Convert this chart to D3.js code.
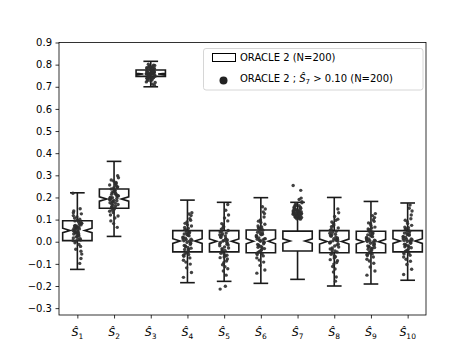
<!DOCTYPE html>
<meta charset="utf-8">
<style>
body { margin: 0; background: #fff; }
text { font-family: "DejaVu Sans", sans-serif; font-size: 10px; }
</style>
<svg width="473" height="355"></svg>
<script src="https://d3js.org/d3.v7.min.js"></script>
<script>

// categories and tick labels
var categories = ["1", "2", "3", "4", "5", "6", "7", "8", "9", "10"];
var yTicks = [-0.3, -0.2, -0.1, 0.0, 0.1, 0.2, 0.3, 0.4, 0.5, 0.6, 0.7, 0.8, 0.9];

// box statistics (ORACLE 2, N=200)
var q1     = [0.005, 0.151, 0.747, -0.046, -0.046, -0.050, -0.042, -0.050, -0.050, -0.046];
var median = [0.051, 0.193, 0.758,  0.003,  0.002,  0.002,  0.003,  0.001,  0.000,  0.003];
var q3     = [0.095, 0.238, 0.776,  0.050,  0.050,  0.053,  0.048,  0.050,  0.047,  0.050];
var whisLo = [-0.125, 0.024, 0.700, -0.185, -0.179, -0.188, -0.170, -0.200, -0.191, -0.174];
var whisHi = [0.221, 0.363, 0.815,  0.188,  0.178,  0.199,  0.178,  0.200,  0.182,  0.175];
var nRuns = 200;

// strip points (ORACLE 2 ; S7 > 0.10)
var pts1 = [0.052, 0.031, 0.094, 0.008, 0.067, 0.118, -0.012, 0.043, 0.076, 0.025, 0.139, 0.058, -0.034, 0.084, 0.011, 0.047, 0.102, 0.063, -0.056, 0.029, 0.071, 0.149, 0.038, 0.005, 0.089, 0.054, -0.021, 0.112, 0.017, 0.066, 0.041, -0.076, 0.097, 0.035, 0.079, 0.002, 0.126, 0.048, 0.061, -0.098, 0.022, 0.083, 0.044, 0.107, 0.014, 0.069, 0.219, 0.037, -0.005, 0.091, 0.057, 0.131, 0.026, 0.073, -0.043];
var pts2 = [0.192, 0.231, 0.158, 0.205, 0.274, 0.176, 0.219, 0.143, 0.248, 0.187, 0.121, 0.263, 0.199, 0.168, 0.227, 0.094, 0.211, 0.182, 0.289, 0.153, 0.238, 0.196, 0.132, 0.256, 0.174, 0.214, 0.065, 0.243, 0.189, 0.161, 0.222, 0.298, 0.147, 0.201, 0.268, 0.179, 0.116, 0.234, 0.194, 0.252, 0.165, 0.207, 0.107, 0.279, 0.185, 0.226, 0.138, 0.216, 0.171, 0.245, 0.082, 0.198, 0.261, 0.155, 0.209];
var pts3 = [0.758, 0.772, 0.745, 0.781, 0.763, 0.739, 0.791, 0.752, 0.768, 0.726, 0.784, 0.757, 0.748, 0.796, 0.761, 0.735, 0.775, 0.754, 0.719, 0.787, 0.766, 0.742, 0.779, 0.759, 0.731, 0.802, 0.764, 0.749, 0.771, 0.712, 0.756, 0.783, 0.744, 0.767, 0.738, 0.793, 0.753, 0.776, 0.728, 0.762, 0.789, 0.747, 0.769, 0.741, 0.798, 0.755, 0.722, 0.774, 0.751, 0.765, 0.736, 0.786, 0.759, 0.744, 0.707];
var pts4 = [0.012, -0.034, 0.056, -0.008, 0.089, -0.061, 0.027, -0.019, 0.118, -0.047, 0.004, 0.043, -0.092, 0.071, -0.026, 0.035, -0.073, 0.009, 0.131, -0.041, 0.064, -0.012, -0.118, 0.021, 0.048, -0.055, 0.097, -0.003, -0.084, 0.038, 0.016, -0.029, 0.077, -0.066, 0.002, 0.052, -0.139, 0.029, -0.017, 0.104, -0.048, 0.007, 0.061, -0.035, -0.101, 0.041, 0.019, -0.058, 0.083, -0.006, 0.033, -0.161, 0.125, -0.022, 0.011];
var pts5 = [-0.018, 0.026, -0.047, 0.008, 0.068, -0.072, 0.015, -0.031, 0.094, -0.056, -0.003, 0.039, -0.104, 0.051, -0.024, 0.019, -0.087, 0.003, 0.121, -0.039, 0.057, -0.011, -0.132, 0.031, -0.064, 0.082, -0.006, -0.095, 0.044, 0.012, -0.043, 0.168, -0.069, 0.022, -0.151, 0.036, -0.015, 0.107, -0.052, 0.001, 0.063, -0.028, -0.113, 0.047, -0.061, 0.076, -0.009, -0.201, 0.029, -0.078, 0.005, -0.214, 0.142, -0.036, -0.122];
var pts6 = [0.021, -0.027, 0.063, -0.004, 0.098, -0.052, 0.034, -0.016, 0.127, -0.041, 0.011, 0.052, -0.083, 0.079, -0.021, 0.043, -0.064, 0.006, 0.148, -0.036, 0.071, -0.009, -0.107, 0.028, 0.056, -0.047, 0.112, 0.002, -0.073, 0.039, 0.017, -0.031, 0.087, -0.058, 0.008, 0.061, -0.128, 0.031, -0.012, 0.135, -0.044, 0.014, 0.067, -0.025, -0.092, 0.047, 0.024, -0.054, 0.093, -0.002, 0.036, -0.142, 0.158, -0.019, 0.013];
var pts7 = [0.124, 0.138, 0.112, 0.151, 0.119, 0.133, 0.107, 0.162, 0.128, 0.115, 0.143, 0.121, 0.172, 0.109, 0.135, 0.126, 0.147, 0.113, 0.181, 0.131, 0.118, 0.156, 0.104, 0.139, 0.122, 0.166, 0.116, 0.141, 0.129, 0.191, 0.111, 0.136, 0.123, 0.153, 0.106, 0.144, 0.127, 0.117, 0.158, 0.132, 0.114, 0.176, 0.125, 0.149, 0.102, 0.137, 0.254, 0.121, 0.146, 0.232, 0.119, 0.134, 0.163, 0.128, 0.197];
var pts8 = [-0.006, 0.034, -0.051, 0.017, 0.076, -0.081, 0.009, -0.028, 0.102, -0.063, -0.001, 0.047, -0.112, 0.062, -0.019, 0.025, -0.094, 0.004, 0.131, -0.042, 0.068, -0.014, -0.137, 0.038, -0.068, 0.089, 0.011, -0.101, 0.052, 0.021, -0.036, 0.148, -0.074, 0.029, -0.159, 0.043, -0.011, 0.114, -0.057, 0.006, 0.071, -0.024, -0.123, 0.056, -0.046, 0.083, -0.003, -0.178, 0.031, -0.086, 0.014, -0.033, 0.097, -0.048, 0.002];
var pts9 = [0.008, -0.029, 0.049, -0.012, 0.081, -0.058, 0.023, -0.021, 0.109, -0.043, 0.001, 0.039, -0.087, 0.066, -0.031, 0.031, -0.069, 0.005, 0.127, -0.037, 0.058, -0.016, -0.114, 0.019, 0.044, -0.052, 0.092, -0.007, -0.079, 0.035, 0.012, -0.026, 0.073, -0.062, -0.002, 0.054, -0.132, 0.026, -0.019, 0.099, -0.046, 0.003, 0.062, -0.034, -0.097, 0.041, 0.015, -0.055, 0.085, -0.009, 0.029, -0.151, 0.118, -0.024, 0.007];
var pts10 = [0.014, -0.022, 0.057, -0.005, 0.091, -0.049, 0.029, -0.013, 0.121, -0.038, 0.006, 0.046, -0.079, 0.074, -0.018, 0.039, -0.061, 0.011, 0.139, -0.032, 0.066, -0.007, -0.103, 0.024, 0.051, -0.044, 0.104, 0.001, -0.069, 0.035, 0.019, -0.027, 0.082, -0.055, 0.004, 0.059, -0.124, 0.031, -0.011, 0.166, -0.041, 0.009, 0.063, -0.023, -0.088, 0.043, 0.021, -0.051, 0.097, 0.002, 0.033, -0.148, 0.151, -0.016, 0.012];
var points = [pts1, pts2, pts3, pts4, pts5, pts6, pts7, pts8, pts9, pts10];

var svg = d3.select("svg");

var margin = {left: 59, right: 47, top: 42.5, bottom: 40};
var W = 473, H = 355;

var x = d3.scaleLinear().domain([0.5, 10.5]).range([margin.left, W - margin.right]);
var y = d3.scaleLinear().domain([-0.331, 0.9]).range([H - margin.bottom, margin.top]);

var boxW = 0.8;

// boxes (notched) + whiskers
var boxes = svg.append("g");
categories.forEach(function(c, i) {
    var pos = i + 1;
    var l = x(pos - boxW / 2), r = x(pos + boxW / 2);
    var cl = x(pos - boxW / 4), cr = x(pos + boxW / 4);
    var iqr = q3[i] - q1[i];
    var ciLo = median[i] - 1.57 * iqr / Math.sqrt(nRuns);
    var ciHi = median[i] + 1.57 * iqr / Math.sqrt(nRuns);

    var p = d3.path();
    p.moveTo(l, y(q1[i]));
    p.lineTo(r, y(q1[i]));
    p.lineTo(r, y(ciLo));
    p.lineTo(cr, y(median[i]));
    p.lineTo(r, y(ciHi));
    p.lineTo(r, y(q3[i]));
    p.lineTo(l, y(q3[i]));
    p.lineTo(l, y(ciHi));
    p.lineTo(cl, y(median[i]));
    p.lineTo(l, y(ciLo));
    p.closePath();

    boxes.append("path")
        .attr("d", p.toString())
        .style("fill", "white")
        .style("stroke", "#1a1a1a")
        .style("stroke-width", 1.6)
        .style("stroke-linejoin", "miter");

    // whiskers
    [[q3[i], whisHi[i]], [q1[i], whisLo[i]]].forEach(function(w) {
        boxes.append("line")
            .attr("x1", x(pos)).attr("x2", x(pos))
            .attr("y1", y(w[0])).attr("y2", y(w[1]))
            .style("stroke", "#1a1a1a").style("stroke-width", 1.6);
        boxes.append("line")
            .attr("x1", cl).attr("x2", cr)
            .attr("y1", y(w[1])).attr("y2", y(w[1]))
            .style("stroke", "#1a1a1a").style("stroke-width", 1.6);
    });
});

// strip points, fixed jitter pattern
var jitter = 0.12;
function jit(j) { return ((j * 37) % 23 / 22 - 0.5) * 2 * jitter; }

var dots = svg.append("g");
points.forEach(function(arr, i) {
    dots.selectAll(null)
        .data(arr)
        .enter().append("circle")
        .attr("cx", function(d, j) { return x(i + 1 + jit(j)); })
        .attr("cy", function(d) { return y(d); })
        .attr("r", 1.7)
        .style("fill", "#2e2e2e")
        .style("opacity", 0.9);
});

// axes
var yAxis = svg.append("g")
    .attr("transform", "translate(" + margin.left + ",0)")
    .call(d3.axisLeft(y).tickValues(yTicks).tickFormat(d3.format(".1f")).tickSize(3.5).tickPadding(3.5));

var xAxis = svg.append("g")
    .attr("transform", "translate(0," + (H - margin.bottom) + ")")
    .call(d3.axisBottom(x).tickValues(d3.range(1, 11)).tickFormat("").tickSize(3.5));

svg.selectAll(".domain").remove();
svg.selectAll(".tick line").style("stroke", "#000").style("stroke-width", 0.8);
svg.selectAll(".tick text").style("font-size", "10px").style("fill", "#000")
    .style("font-family", "'DejaVu Sans', sans-serif");

// frame
svg.append("rect")
    .attr("x", margin.left).attr("y", margin.top)
    .attr("width", W - margin.left - margin.right)
    .attr("height", H - margin.top - margin.bottom)
    .style("fill", "none").style("stroke", "#000").style("stroke-width", 0.8);

// x tick labels S-hat_i
categories.forEach(function(c, i) {
    var t = svg.append("text")
        .attr("x", x(i + 1))
        .attr("y", 336)
        .attr("text-anchor", "middle");
    t.append("tspan").style("font-style", "italic").style("font-size", "11px").text("\u015C");
    t.append("tspan").style("font-size", "7.5px").attr("dy", 2.5).text(c);
});

// legend
var lg = svg.append("g");
lg.append("rect")
    .attr("x", 203.5).attr("y", 48.5).attr("width", 219.5).attr("height", 41.5)
    .attr("rx", 2.5)
    .style("fill", "white").style("fill-opacity", 0.8)
    .style("stroke", "#cccccc").style("stroke-width", 0.8);
lg.append("rect")
    .attr("x", 212.5).attr("y", 53.5).attr("width", 23).attr("height", 8)
    .style("fill", "white").style("stroke", "#000").style("stroke-width", 1);
lg.append("text").attr("x", 240).attr("y", 61).text("ORACLE 2 (N=200)");
lg.append("circle").attr("cx", 223.5).attr("cy", 80.5).attr("r", 4).style("fill", "#222");
var t2 = lg.append("text").attr("x", 240).attr("y", 81.5);
t2.append("tspan").text("ORACLE 2 ; ");
t2.append("tspan").style("font-style", "italic").text("\u015C");
t2.append("tspan").style("font-size", "7px").attr("dy", 2).text("7");
t2.append("tspan").attr("dy", -2).text(" > 0.10 (N=200)");

</script>
